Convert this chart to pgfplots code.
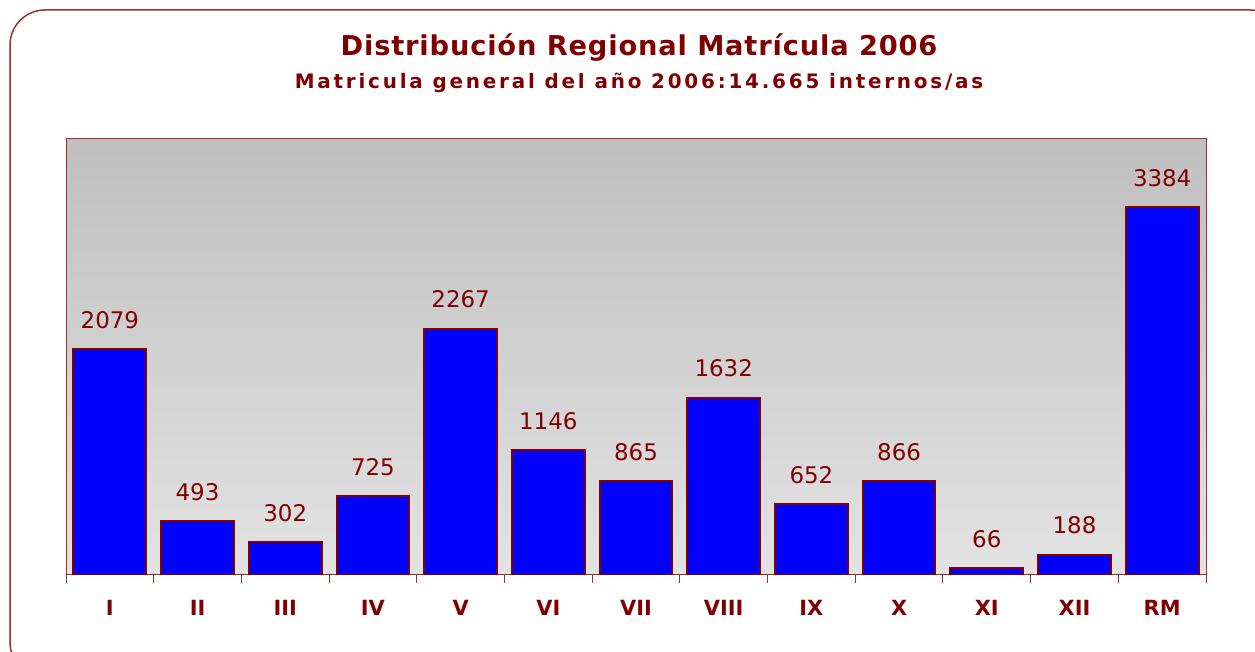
\documentclass[border=0pt]{standalone}
\usepackage{fontspec}
\setmainfont{DejaVu Sans}
\newfontfamily\titlefont{DejaVu Sans}[LetterSpace=3]
\newfontfamily\subfont{DejaVu Sans}[LetterSpace=14]
\usepackage{pgfplots}
\pgfplotsset{compat=1.18}
\definecolor{dred}{HTML}{800000}
\definecolor{fr}{HTML}{9A3030}
\begin{document}
\begin{tikzpicture}[x=1bp,y=1bp]
\useasboundingbox (0,0) rectangle (1255,652);
\begin{scope}
\clip (0,0) rectangle (1255,652);
\draw[fr, line width=1.5bp, rounded corners=35bp] (10,-25) rectangle (1285,642);
\end{scope}
\node[dred, font=\titlefont\bfseries\fontsize{27.4}{31}\selectfont] at (639,604) {Distribución Regional Matrícula 2006};
\node[dred, font=\subfont\bfseries\fontsize{20}{24}\selectfont] at (639,569) {Matricula general del año 2006:14.665 internos/as};
\begin{axis}[
  at={(66bp,77bp)}, anchor=south west, scale only axis,
  width=1140bp, height=436bp,
  ymin=0, ymax=4010, xmin=-0.5, xmax=12.5,
  ybar, bar width=0.83,
  ytick=\empty,
  xtick={0,...,12},
  xticklabels={I,II,III,IV,V,VI,VII,VIII,IX,X,XI,XII,RM},
  major tick length=0pt,
  minor xtick={-0.5,0.5,...,12.5},
  minor tick length=8bp,
  tick align=outside,
  xtick pos=bottom,
  minor tick style={fr, line width=1bp},
  axis line style={fr, line width=1bp},
  xticklabel style={font=\bfseries\fontsize{21}{25}\selectfont, text=dred, yshift=-22bp},
  axis background/.style={top color=black!25, bottom color=black!11},
  nodes near coords,
  /pgf/number format/assume math mode=true,
  /pgf/number format/1000 sep={},
  every node near coord/.append style={font=\fontsize{23}{28}\selectfont, text=dred, yshift=16bp},
]
\addplot[fill=blue, draw=dred, line width=2bp] coordinates {
(0,2079) (1,493) (2,302) (3,725) (4,2267) (5,1146) (6,865) (7,1632) (8,652) (9,866) (10,66) (11,188) (12,3384)};
\end{axis}
\end{tikzpicture}
\end{document}
